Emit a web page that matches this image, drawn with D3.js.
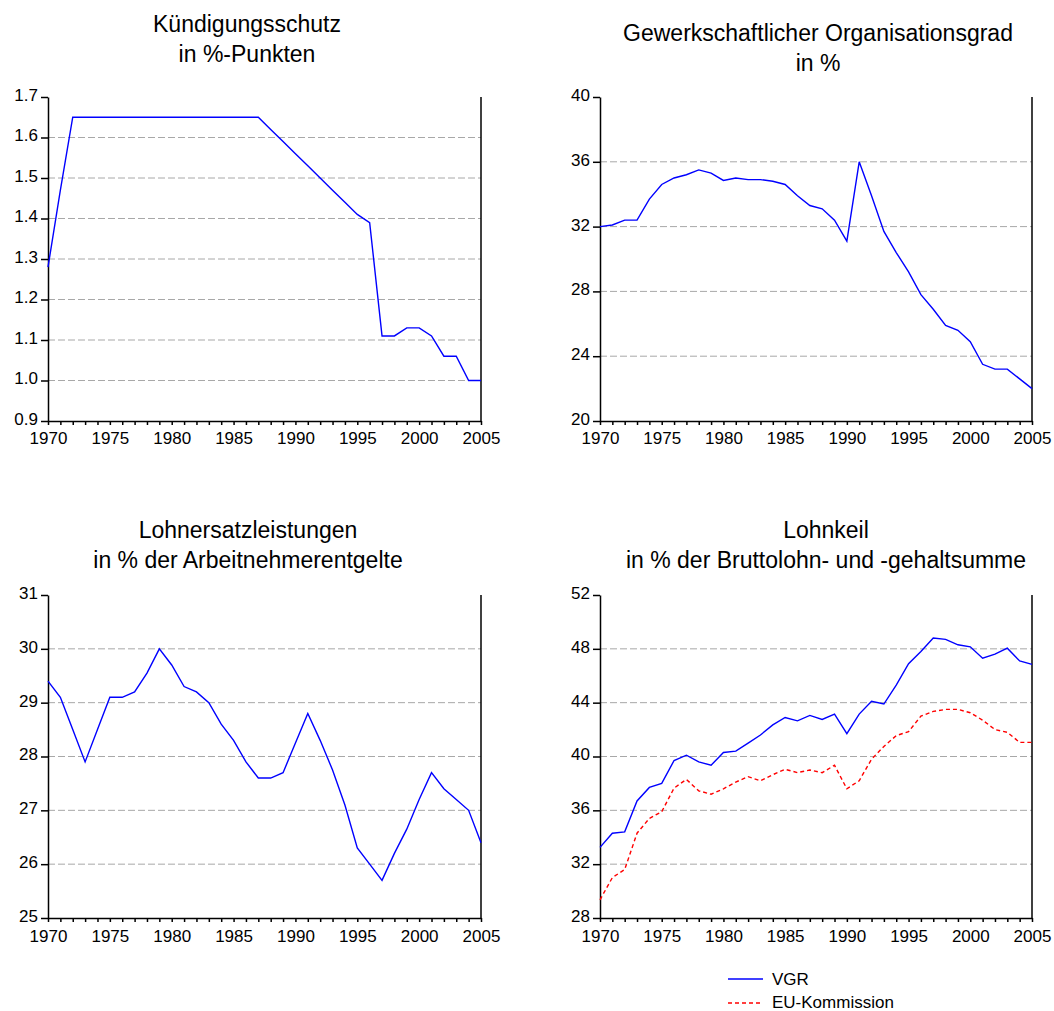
<!DOCTYPE html>
<html>
<head>
<meta charset="utf-8">
<script src="https://cdn.jsdelivr.net/npm/d3@7"></script>
<style>
  body { margin: 0; background: #fff; }
  text { font-family: "Liberation Sans", Arial, sans-serif; fill: #000; }
</style>
</head>
<body>
<script>
// Jahre 1970 - 2005
var jahre = d3.range(1970, 2006);

var kuendigungsschutz = [1.28, 1.47, 1.65, 1.65, 1.65, 1.65, 1.65, 1.65, 1.65, 1.65,
  1.65, 1.65, 1.65, 1.65, 1.65, 1.65, 1.65, 1.65, 1.62, 1.59,
  1.56, 1.53, 1.50, 1.47, 1.44, 1.41, 1.39, 1.11, 1.11, 1.13,
  1.13, 1.11, 1.06, 1.06, 1.00, 1.00];

var organisationsgrad = [32.0, 32.1, 32.4, 32.4, 33.7, 34.6, 35.0, 35.2, 35.5, 35.3,
  34.85, 35.0, 34.9, 34.9, 34.8, 34.6, 33.9, 33.3, 33.1, 32.4,
  31.1, 36.0, 33.9, 31.7, 30.4, 29.2, 27.8, 26.9, 25.9, 25.6,
  24.9, 23.5, 23.2, 23.2, 22.6, 22.0];

var lohnersatz = [29.4, 29.1, 28.5, 27.9, 28.5, 29.1, 29.1, 29.2, 29.55, 30.0,
  29.7, 29.3, 29.2, 29.0, 28.6, 28.3, 27.9, 27.6, 27.6, 27.7,
  28.25, 28.8, 28.3, 27.75, 27.1, 26.3, 26.0, 25.7, 26.2, 26.65,
  27.2, 27.7, 27.4, 27.2, 27.0, 26.4];

var lohnkeilVGR = [33.25, 34.3, 34.4, 36.7, 37.7, 38.0, 39.7, 40.1, 39.6, 39.35,
  40.3, 40.4, 41.0, 41.6, 42.35, 42.9, 42.65, 43.05, 42.75, 43.15,
  41.7, 43.15, 44.1, 43.9, 45.3, 46.9, 47.8, 48.8, 48.7, 48.3,
  48.15, 47.3, 47.6, 48.05, 47.1, 46.85];

var lohnkeilEU = [29.35, 31.0, 31.6, 34.3, 35.4, 35.9, 37.65, 38.3, 37.45, 37.2,
  37.6, 38.1, 38.5, 38.2, 38.65, 39.05, 38.8, 39.0, 38.8, 39.35,
  37.6, 38.2, 39.8, 40.75, 41.55, 41.85, 43.0, 43.35, 43.5, 43.5,
  43.25, 42.7, 42.0, 41.8, 41.05, 41.05];

// Achsenbeschriftungen
var ticksKS = [0.9, 1.0, 1.1, 1.2, 1.3, 1.4, 1.5, 1.6, 1.7];
var ticksOG = [20, 24, 28, 32, 36, 40];
var ticksLE = [25, 26, 27, 28, 29, 30, 31];
var ticksLK = [28, 32, 36, 40, 44, 48, 52];

var blau = "#0000ff", rot = "#ff0000", gitter = "#a8a8a8";

var svg = d3.select("body")
  .append("svg")
  .attr("width", 1054)
  .attr("height", 1011);

// Zeichnet ein einzelnes Diagramm
function panel(p) {
  var x = d3.scaleLinear().domain([1970, 2005]).range([p.left, p.right]);
  var y = d3.scaleLinear().domain([p.ticks[0], p.ticks[p.ticks.length - 1]]).range([p.bottom, p.top]);
  var g = svg.append("g");

  // gestrichelte Gitterlinien
  g.selectAll("line.grid")
    .data(p.ticks.slice(1, -1))
    .enter()
    .append("line")
    .attr("x1", p.left).attr("x2", p.right)
    .attr("y1", function(d) { return y(d); })
    .attr("y2", function(d) { return y(d); })
    .attr("stroke", gitter)
    .attr("stroke-width", 1)
    .attr("stroke-dasharray", "7,3");

  // Y-Achse
  var ya = g.append("g")
    .attr("transform", "translate(" + p.left + ",0)")
    .call(d3.axisLeft(y).tickValues(p.ticks).tickSize(7).tickSizeOuter(0).tickPadding(3).tickFormat(p.fmt));
  ya.selectAll("text").attr("font-size", 17).attr("font-family", null).attr("dy", "0.2em");
  ya.selectAll("line, path").attr("stroke", "#000").attr("stroke-width", 1.5);

  // X-Achse mit Jahresstrichen
  var xa = g.append("g")
    .attr("transform", "translate(0," + p.bottom + ")")
    .call(d3.axisBottom(x).tickValues(jahre).tickSize(4).tickSizeOuter(0).tickPadding(p.xpad)
      .tickFormat(function(d) { return d % 5 == 0 ? d : ""; }));
  xa.selectAll("text").attr("font-size", 17).attr("font-family", null);
  xa.selectAll("line, path").attr("stroke", "#000").attr("stroke-width", 1.5);

  // rechte Begrenzung
  g.append("line")
    .attr("x1", p.right).attr("x2", p.right)
    .attr("y1", p.top).attr("y2", p.bottom)
    .attr("stroke", "#000").attr("stroke-width", 1.5);

  // Datenreihen
  p.reihen.forEach(function(r) {
    g.append("path")
      .datum(r.werte)
      .attr("fill", "none")
      .attr("stroke", r.farbe)
      .attr("stroke-width", 1.4)
      .attr("stroke-dasharray", r.dash)
      .attr("d", d3.line()
        .x(function(d, i) { return x(jahre[i]); })
        .y(function(d) { return y(d); }));
  });

  // Titel (zwei Zeilen)
  g.selectAll("text.titel")
    .data(p.titel)
    .enter()
    .append("text")
    .attr("x", p.tx)
    .attr("y", function(d, i) { return p.ty + i * 30; })
    .attr("text-anchor", "middle")
    .attr("font-size", 23)
    .text(function(d) { return d; });
}

panel({ left: 48, right: 481, top: 97, bottom: 421, xpad: 7, ticks: ticksKS, fmt: d3.format(".1f"),
  reihen: [{ werte: kuendigungsschutz, farbe: blau, dash: null }],
  titel: ["Kündigungsschutz", "in %-Punkten"], tx: 247, ty: 32 });

panel({ left: 600, right: 1032, top: 97, bottom: 421, xpad: 7, ticks: ticksOG, fmt: d3.format("d"),
  reihen: [{ werte: organisationsgrad, farbe: blau, dash: null }],
  titel: ["Gewerkschaftlicher Organisationsgrad", "in %"], tx: 818, ty: 41 });

panel({ left: 48, right: 481, top: 595, bottom: 918, xpad: 8, ticks: ticksLE, fmt: d3.format("d"),
  reihen: [{ werte: lohnersatz, farbe: blau, dash: null }],
  titel: ["Lohnersatzleistungen", "in % der Arbeitnehmerentgelte"], tx: 248, ty: 538 });

panel({ left: 600, right: 1032, top: 595, bottom: 918, xpad: 8, ticks: ticksLK, fmt: d3.format("d"),
  reihen: [{ werte: lohnkeilVGR, farbe: blau, dash: null },
           { werte: lohnkeilEU, farbe: rot, dash: "4,3" }],
  titel: ["Lohnkeil", "in % der Bruttolohn- und -gehaltsumme"], tx: 826, ty: 538 });

// Legende
var legende = [{ name: "VGR", farbe: blau, dash: null }, { name: "EU-Kommission", farbe: rot, dash: "4,3" }];
var lg = svg.append("g");
lg.selectAll("line")
  .data(legende)
  .enter()
  .append("line")
  .attr("x1", 728).attr("x2", 763)
  .attr("y1", function(d, i) { return 979 + i * 24; })
  .attr("y2", function(d, i) { return 979 + i * 24; })
  .attr("stroke", function(d) { return d.farbe; })
  .attr("stroke-width", 1.4)
  .attr("stroke-dasharray", function(d) { return d.dash; });
lg.selectAll("text")
  .data(legende)
  .enter()
  .append("text")
  .attr("x", 772)
  .attr("y", function(d, i) { return 985 + i * 23; })
  .attr("font-size", 17)
  .text(function(d) { return d.name; });
</script>
</body>
</html>
